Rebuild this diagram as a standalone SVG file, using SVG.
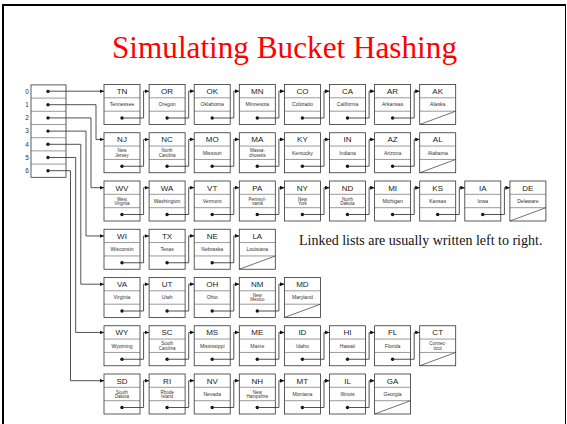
<svg xmlns="http://www.w3.org/2000/svg" width="567" height="424" viewBox="0 0 567 424">
  <style>
    .frame { fill: none; stroke: #000; }
    .title { font-family: "Liberation Serif", "Times New Roman", serif; font-size: 31px; fill: #ff0000; text-anchor: middle; }
    .note { font-family: "Liberation Serif", "Times New Roman", serif; font-size: 14px; fill: #111; }
    .box { fill: #fff; stroke: #333; stroke-width: 0.8; }
    .div { stroke: #555; stroke-width: 0.6; }
    .ab { font-family: "Liberation Sans", Arial, sans-serif; font-size: 8px; fill: #222; text-anchor: middle; }
    .nm { font-family: "Liberation Sans", Arial, sans-serif; font-size: 5.1px; fill: #333; text-anchor: middle; }
    .nm2 { font-family: "Liberation Sans", Arial, sans-serif; font-size: 4.5px; fill: #333; text-anchor: middle; }
    .idx { font-family: "Liberation Sans", Arial, sans-serif; font-size: 6.5px; fill: #333; text-anchor: middle; }
    .dot { fill: #111; }
    .nil { stroke: #333; stroke-width: 0.7; }
    .link { fill: none; stroke: #333; stroke-width: 0.85; marker-end: url(#arrow); }
  </style>
  <defs>
    <marker id="arrow" viewBox="0 0 4.5 4" refX="4.5" refY="2" markerWidth="4.5" markerHeight="4" markerUnits="userSpaceOnUse" orient="auto">
      <path d="M0,0 L4.5,2 L0,4 z" fill="#111"/>
    </marker>
    <!-- empty node shell: three stacked fields -->
    <g id="shell">
      <rect class="box" x="0" y="0" width="36" height="40"/>
      <line class="div" x1="0" y1="13.3" x2="36" y2="13.3"/>
      <line class="div" x1="0" y1="26.7" x2="36" y2="26.7"/>
    </g>
    <circle id="ptr" class="dot" cx="18" cy="33.5" r="1.7"/>
    <line id="null" class="nil" x1="0" y1="40" x2="36" y2="26.7"/>
  </defs>

  <rect width="567" height="424" fill="#fff"/>
  <!-- slide frame -->
  <line class="frame" x1="2" y1="5" x2="566" y2="5" stroke-width="2"/>
  <line class="frame" x1="3" y1="5" x2="3" y2="424" stroke-width="2"/>
  <line class="frame" x1="565.5" y1="5" x2="565.5" y2="424" stroke-width="1" stroke="#444"/>

  <text class="title" x="284.5" y="57.5" textLength="345" lengthAdjust="spacingAndGlyphs">Simulating Bucket Hashing</text>
  <text class="note" x="299" y="244.5">Linked lists are usually written left to right.</text>

  <!-- bucket table -->
  <g id="table">
    <rect class="box" x="31" y="84.9" width="35" height="92.4"/>
    <line class="div" x1="31" y1="98.1" x2="66" y2="98.1"/>
    <line class="div" x1="31" y1="111.3" x2="66" y2="111.3"/>
    <line class="div" x1="31" y1="124.5" x2="66" y2="124.5"/>
    <line class="div" x1="31" y1="137.7" x2="66" y2="137.7"/>
    <line class="div" x1="31" y1="150.9" x2="66" y2="150.9"/>
    <line class="div" x1="31" y1="164.1" x2="66" y2="164.1"/>
    <text class="idx" x="27" y="93.8">0</text>
    <text class="idx" x="27" y="107">1</text>
    <text class="idx" x="27" y="120.2">2</text>
    <text class="idx" x="27" y="133.4">3</text>
    <text class="idx" x="27" y="146.6">4</text>
    <text class="idx" x="27" y="159.8">5</text>
    <text class="idx" x="27" y="173">6</text>
    <circle class="dot" cx="48" cy="91.4" r="1.7"/>
    <circle class="dot" cx="48" cy="104.7" r="1.7"/>
    <circle class="dot" cx="48" cy="117.9" r="1.7"/>
    <circle class="dot" cx="48" cy="131.1" r="1.7"/>
    <circle class="dot" cx="48" cy="144.3" r="1.7"/>
    <circle class="dot" cx="48" cy="157.5" r="1.7"/>
    <circle class="dot" cx="48" cy="170.7" r="1.7"/>
  </g>

  <!-- row 0 -->
  <g id="n-TN" transform="translate(104,84.5)"><use href="#shell"/><text class="ab" x="18" y="9.7">TN</text><text class="nm" x="18" y="21.8">Tennessee</text><use href="#ptr"/></g>
  <g id="n-OR" transform="translate(149.1,84.5)"><use href="#shell"/><text class="ab" x="18" y="9.7">OR</text><text class="nm" x="18" y="21.8">Oregon</text><use href="#ptr"/></g>
  <g id="n-OK" transform="translate(194.2,84.5)"><use href="#shell"/><text class="ab" x="18" y="9.7">OK</text><text class="nm" x="18" y="21.8">Oklahoma</text><use href="#ptr"/></g>
  <g id="n-MN" transform="translate(239.3,84.5)"><use href="#shell"/><text class="ab" x="18" y="9.7">MN</text><text class="nm" x="18" y="21.8">Minnesota</text><use href="#ptr"/></g>
  <g id="n-CO" transform="translate(284.4,84.5)"><use href="#shell"/><text class="ab" x="18" y="9.7">CO</text><text class="nm" x="18" y="21.8">Colorado</text><use href="#ptr"/></g>
  <g id="n-CA" transform="translate(329.5,84.5)"><use href="#shell"/><text class="ab" x="18" y="9.7">CA</text><text class="nm" x="18" y="21.8">California</text><use href="#ptr"/></g>
  <g id="n-AR" transform="translate(374.6,84.5)"><use href="#shell"/><text class="ab" x="18" y="9.7">AR</text><text class="nm" x="18" y="21.8">Arkansas</text><use href="#ptr"/></g>
  <g id="n-AK" transform="translate(419.7,84.5)"><use href="#shell"/><text class="ab" x="18" y="9.7">AK</text><text class="nm" x="18" y="21.8">Alaska</text><use href="#null"/></g>

  <!-- row 1 -->
  <g id="n-NJ" transform="translate(104,132.75)"><use href="#shell"/><text class="ab" x="18" y="9.7">NJ</text><text class="nm2" x="18" y="19.5">New</text><text class="nm2" x="18" y="23.8">Jersey</text><use href="#ptr"/></g>
  <g id="n-NC" transform="translate(149.1,132.75)"><use href="#shell"/><text class="ab" x="18" y="9.7">NC</text><text class="nm2" x="18" y="19.5">North</text><text class="nm2" x="18" y="23.8">Carolina</text><use href="#ptr"/></g>
  <g id="n-MO" transform="translate(194.2,132.75)"><use href="#shell"/><text class="ab" x="18" y="9.7">MO</text><text class="nm" x="18" y="21.8">Missouri</text><use href="#ptr"/></g>
  <g id="n-MA" transform="translate(239.3,132.75)"><use href="#shell"/><text class="ab" x="18" y="9.7">MA</text><text class="nm2" x="18" y="19.5">Massa-</text><text class="nm2" x="18" y="23.8">chusetts</text><use href="#ptr"/></g>
  <g id="n-KY" transform="translate(284.4,132.75)"><use href="#shell"/><text class="ab" x="18" y="9.7">KY</text><text class="nm" x="18" y="21.8">Kentucky</text><use href="#ptr"/></g>
  <g id="n-IN" transform="translate(329.5,132.75)"><use href="#shell"/><text class="ab" x="18" y="9.7">IN</text><text class="nm" x="18" y="21.8">Indiana</text><use href="#ptr"/></g>
  <g id="n-AZ" transform="translate(374.6,132.75)"><use href="#shell"/><text class="ab" x="18" y="9.7">AZ</text><text class="nm" x="18" y="21.8">Arizona</text><use href="#ptr"/></g>
  <g id="n-AL" transform="translate(419.7,132.75)"><use href="#shell"/><text class="ab" x="18" y="9.7">AL</text><text class="nm" x="18" y="21.8">Alabama</text><use href="#null"/></g>

  <!-- row 2 -->
  <g id="n-WV" transform="translate(104,181)"><use href="#shell"/><text class="ab" x="18" y="9.7">WV</text><text class="nm2" x="18" y="19.5">West</text><text class="nm2" x="18" y="23.8">Virginia</text><use href="#ptr"/></g>
  <g id="n-WA" transform="translate(149.1,181)"><use href="#shell"/><text class="ab" x="18" y="9.7">WA</text><text class="nm" x="18" y="21.8">Washington</text><use href="#ptr"/></g>
  <g id="n-VT" transform="translate(194.2,181)"><use href="#shell"/><text class="ab" x="18" y="9.7">VT</text><text class="nm" x="18" y="21.8">Vermont</text><use href="#ptr"/></g>
  <g id="n-PA" transform="translate(239.3,181)"><use href="#shell"/><text class="ab" x="18" y="9.7">PA</text><text class="nm2" x="18" y="19.5">Pennsyl-</text><text class="nm2" x="18" y="23.8">vania</text><use href="#ptr"/></g>
  <g id="n-NY" transform="translate(284.4,181)"><use href="#shell"/><text class="ab" x="18" y="9.7">NY</text><text class="nm2" x="18" y="19.5">New</text><text class="nm2" x="18" y="23.8">York</text><use href="#ptr"/></g>
  <g id="n-ND" transform="translate(329.5,181)"><use href="#shell"/><text class="ab" x="18" y="9.7">ND</text><text class="nm2" x="18" y="19.5">North</text><text class="nm2" x="18" y="23.8">Dakota</text><use href="#ptr"/></g>
  <g id="n-MI" transform="translate(374.6,181)"><use href="#shell"/><text class="ab" x="18" y="9.7">MI</text><text class="nm" x="18" y="21.8">Michigan</text><use href="#ptr"/></g>
  <g id="n-KS" transform="translate(419.7,181)"><use href="#shell"/><text class="ab" x="18" y="9.7">KS</text><text class="nm" x="18" y="21.8">Kansas</text><use href="#ptr"/></g>
  <g id="n-IA" transform="translate(464.8,181)"><use href="#shell"/><text class="ab" x="18" y="9.7">IA</text><text class="nm" x="18" y="21.8">Iowa</text><use href="#ptr"/></g>
  <g id="n-DE" transform="translate(509.9,181)"><use href="#shell"/><text class="ab" x="18" y="9.7">DE</text><text class="nm" x="18" y="21.8">Delaware</text><use href="#null"/></g>

  <!-- row 3 -->
  <g id="n-WI" transform="translate(104,229.25)"><use href="#shell"/><text class="ab" x="18" y="9.7">WI</text><text class="nm" x="18" y="21.8">Wisconsin</text><use href="#ptr"/></g>
  <g id="n-TX" transform="translate(149.1,229.25)"><use href="#shell"/><text class="ab" x="18" y="9.7">TX</text><text class="nm" x="18" y="21.8">Texas</text><use href="#ptr"/></g>
  <g id="n-NE" transform="translate(194.2,229.25)"><use href="#shell"/><text class="ab" x="18" y="9.7">NE</text><text class="nm" x="18" y="21.8">Nebraska</text><use href="#ptr"/></g>
  <g id="n-LA" transform="translate(239.3,229.25)"><use href="#shell"/><text class="ab" x="18" y="9.7">LA</text><text class="nm" x="18" y="21.8">Louisiana</text><use href="#null"/></g>

  <!-- row 4 -->
  <g id="n-VA" transform="translate(104,277.5)"><use href="#shell"/><text class="ab" x="18" y="9.7">VA</text><text class="nm" x="18" y="21.8">Virginia</text><use href="#ptr"/></g>
  <g id="n-UT" transform="translate(149.1,277.5)"><use href="#shell"/><text class="ab" x="18" y="9.7">UT</text><text class="nm" x="18" y="21.8">Utah</text><use href="#ptr"/></g>
  <g id="n-OH" transform="translate(194.2,277.5)"><use href="#shell"/><text class="ab" x="18" y="9.7">OH</text><text class="nm" x="18" y="21.8">Ohio</text><use href="#ptr"/></g>
  <g id="n-NM" transform="translate(239.3,277.5)"><use href="#shell"/><text class="ab" x="18" y="9.7">NM</text><text class="nm2" x="18" y="19.5">New</text><text class="nm2" x="18" y="23.8">Mexico</text><use href="#ptr"/></g>
  <g id="n-MD" transform="translate(284.4,277.5)"><use href="#shell"/><text class="ab" x="18" y="9.7">MD</text><text class="nm" x="18" y="21.8">Maryland</text><use href="#null"/></g>

  <!-- row 5 -->
  <g id="n-WY" transform="translate(104,325.75)"><use href="#shell"/><text class="ab" x="18" y="9.7">WY</text><text class="nm" x="18" y="21.8">Wyoming</text><use href="#ptr"/></g>
  <g id="n-SC" transform="translate(149.1,325.75)"><use href="#shell"/><text class="ab" x="18" y="9.7">SC</text><text class="nm2" x="18" y="19.5">South</text><text class="nm2" x="18" y="23.8">Carolina</text><use href="#ptr"/></g>
  <g id="n-MS" transform="translate(194.2,325.75)"><use href="#shell"/><text class="ab" x="18" y="9.7">MS</text><text class="nm" x="18" y="21.8">Mississippi</text><use href="#ptr"/></g>
  <g id="n-ME" transform="translate(239.3,325.75)"><use href="#shell"/><text class="ab" x="18" y="9.7">ME</text><text class="nm" x="18" y="21.8">Maine</text><use href="#ptr"/></g>
  <g id="n-ID" transform="translate(284.4,325.75)"><use href="#shell"/><text class="ab" x="18" y="9.7">ID</text><text class="nm" x="18" y="21.8">Idaho</text><use href="#ptr"/></g>
  <g id="n-HI" transform="translate(329.5,325.75)"><use href="#shell"/><text class="ab" x="18" y="9.7">HI</text><text class="nm" x="18" y="21.8">Hawaii</text><use href="#ptr"/></g>
  <g id="n-FL" transform="translate(374.6,325.75)"><use href="#shell"/><text class="ab" x="18" y="9.7">FL</text><text class="nm" x="18" y="21.8">Florida</text><use href="#ptr"/></g>
  <g id="n-CT" transform="translate(419.7,325.75)"><use href="#shell"/><text class="ab" x="18" y="9.7">CT</text><text class="nm2" x="18" y="19.5">Connec-</text><text class="nm2" x="18" y="23.8">ticut</text><use href="#null"/></g>

  <!-- row 6 -->
  <g id="n-SD" transform="translate(104,374)"><use href="#shell"/><text class="ab" x="18" y="9.7">SD</text><text class="nm2" x="18" y="19.5">South</text><text class="nm2" x="18" y="23.8">Dakota</text><use href="#ptr"/></g>
  <g id="n-RI" transform="translate(149.1,374)"><use href="#shell"/><text class="ab" x="18" y="9.7">RI</text><text class="nm2" x="18" y="19.5">Rhode</text><text class="nm2" x="18" y="23.8">Island</text><use href="#ptr"/></g>
  <g id="n-NV" transform="translate(194.2,374)"><use href="#shell"/><text class="ab" x="18" y="9.7">NV</text><text class="nm" x="18" y="21.8">Nevada</text><use href="#ptr"/></g>
  <g id="n-NH" transform="translate(239.3,374)"><use href="#shell"/><text class="ab" x="18" y="9.7">NH</text><text class="nm2" x="18" y="19.5">New</text><text class="nm2" x="18" y="23.8">Hampshire</text><use href="#ptr"/></g>
  <g id="n-MT" transform="translate(284.4,374)"><use href="#shell"/><text class="ab" x="18" y="9.7">MT</text><text class="nm" x="18" y="21.8">Montana</text><use href="#ptr"/></g>
  <g id="n-IL" transform="translate(329.5,374)"><use href="#shell"/><text class="ab" x="18" y="9.7">IL</text><text class="nm" x="18" y="21.8">Illinois</text><use href="#ptr"/></g>
  <g id="n-GA" transform="translate(374.6,374)"><use href="#shell"/><text class="ab" x="18" y="9.7">GA</text><text class="nm" x="18" y="21.8">Georgia</text><use href="#null"/></g>

  <!-- pointers: bucket heads, then next-links -->
  <g id="connectors">
    <path class="link" d="M48 91.2H104"/>
    <path class="link" d="M48 104.7H96V139.45H104"/>
    <path class="link" d="M48 117.9H91V187.7H104"/>
    <path class="link" d="M48 131.1H86V235.95H104"/>
    <path class="link" d="M48 144.3H80.8V284.2H104"/>
    <path class="link" d="M48 157.5H75.7V332.45H104"/>
    <path class="link" d="M48 170.7H70.5V380.7H104"/>

    <!-- row 0 -->
    <path class="link" d="M122 118H143.6V91.2H149.1"/>
    <path class="link" d="M167.1 118H188.7V91.2H194.2"/>
    <path class="link" d="M212.2 118H233.8V91.2H239.3"/>
    <path class="link" d="M257.3 118H278.9V91.2H284.4"/>
    <path class="link" d="M302.4 118H324V91.2H329.5"/>
    <path class="link" d="M347.5 118H369.1V91.2H374.6"/>
    <path class="link" d="M392.6 118H414.2V91.2H419.7"/>
    <!-- row 1 -->
    <path class="link" d="M122 166.25H143.6V139.45H149.1"/>
    <path class="link" d="M167.1 166.25H188.7V139.45H194.2"/>
    <path class="link" d="M212.2 166.25H233.8V139.45H239.3"/>
    <path class="link" d="M257.3 166.25H278.9V139.45H284.4"/>
    <path class="link" d="M302.4 166.25H324V139.45H329.5"/>
    <path class="link" d="M347.5 166.25H369.1V139.45H374.6"/>
    <path class="link" d="M392.6 166.25H414.2V139.45H419.7"/>
    <!-- row 2 -->
    <path class="link" d="M122 214.5H143.6V187.7H149.1"/>
    <path class="link" d="M167.1 214.5H188.7V187.7H194.2"/>
    <path class="link" d="M212.2 214.5H233.8V187.7H239.3"/>
    <path class="link" d="M257.3 214.5H278.9V187.7H284.4"/>
    <path class="link" d="M302.4 214.5H324V187.7H329.5"/>
    <path class="link" d="M347.5 214.5H369.1V187.7H374.6"/>
    <path class="link" d="M392.6 214.5H414.2V187.7H419.7"/>
    <path class="link" d="M437.7 214.5H459.3V187.7H464.8"/>
    <path class="link" d="M482.8 214.5H504.4V187.7H509.9"/>
    <!-- row 3 -->
    <path class="link" d="M122 262.75H143.6V235.95H149.1"/>
    <path class="link" d="M167.1 262.75H188.7V235.95H194.2"/>
    <path class="link" d="M212.2 262.75H233.8V235.95H239.3"/>
    <!-- row 4 -->
    <path class="link" d="M122 311H143.6V284.2H149.1"/>
    <path class="link" d="M167.1 311H188.7V284.2H194.2"/>
    <path class="link" d="M212.2 311H233.8V284.2H239.3"/>
    <path class="link" d="M257.3 311H278.9V284.2H284.4"/>
    <!-- row 5 -->
    <path class="link" d="M122 359.25H143.6V332.45H149.1"/>
    <path class="link" d="M167.1 359.25H188.7V332.45H194.2"/>
    <path class="link" d="M212.2 359.25H233.8V332.45H239.3"/>
    <path class="link" d="M257.3 359.25H278.9V332.45H284.4"/>
    <path class="link" d="M302.4 359.25H324V332.45H329.5"/>
    <path class="link" d="M347.5 359.25H369.1V332.45H374.6"/>
    <path class="link" d="M392.6 359.25H414.2V332.45H419.7"/>
    <!-- row 6 -->
    <path class="link" d="M122 407.5H143.6V380.7H149.1"/>
    <path class="link" d="M167.1 407.5H188.7V380.7H194.2"/>
    <path class="link" d="M212.2 407.5H233.8V380.7H239.3"/>
    <path class="link" d="M257.3 407.5H278.9V380.7H284.4"/>
    <path class="link" d="M302.4 407.5H324V380.7H329.5"/>
    <path class="link" d="M347.5 407.5H369.1V380.7H374.6"/>
  </g>
</svg>
